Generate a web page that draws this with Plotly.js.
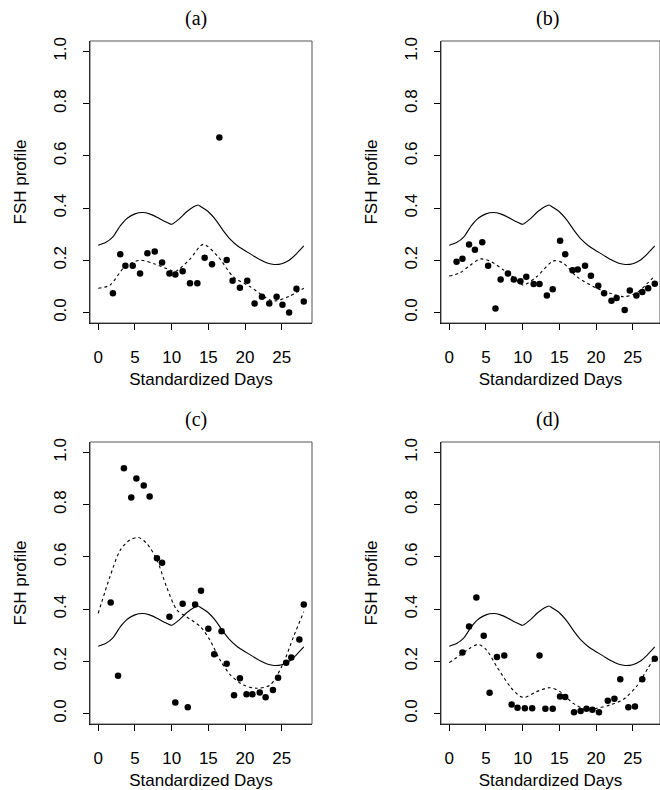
<!DOCTYPE html>
<html><head><meta charset="utf-8">
<script src="https://cdn.plot.ly/plotly-3.0.1.min.js"></script>
<style>body{margin:0;padding:0;background:#fff;} #chart{width:660px;height:790px;}</style>
</head><body><div id="chart"></div>
<script>
// Population mean curve (solid), shared by all panels
const popDays = [0,1,2,3,4,5,6,7,8,9,10,11,12,13,13.6,14,15,16,17,18,19,20,21,22,23,24,25,26,27,28];
const popMean = [0.258,0.268,0.29,0.332,0.362,0.378,0.383,0.378,0.365,0.35,0.338,0.358,0.385,0.405,0.412,0.405,0.386,0.355,0.315,0.28,0.255,0.237,0.22,0.203,0.19,0.184,0.187,0.2,0.225,0.255];

// Panel (a)
const aDays = [2,3,3.7,4.7,5.7,6.7,7.7,8.7,9.7,10.5,11.5,12.5,13.5,14.5,15.5,16.5,17.5,18.3,19.3,20.3,21.3,22.3,23.3,24.3,25.1,26,27,28];
const aVals = [0.074,0.223,0.179,0.179,0.150,0.227,0.234,0.192,0.150,0.146,0.158,0.112,0.112,0.210,0.185,0.67,0.201,0.122,0.095,0.122,0.035,0.061,0.035,0.061,0.030,0.0,0.091,0.042];
const aFitDays = [0,1.6,3.6,5.7,7.7,9.8,10.5,12.5,14.3,16.3,18.4,20.7,23.4,24.3,26,28];
const aFitVals = [0.093,0.105,0.175,0.2,0.186,0.163,0.157,0.205,0.261,0.215,0.137,0.099,0.048,0.045,0.062,0.093];

// Panel (b)
const bDays = [1.0,1.8,2.7,3.5,4.5,5.3,6.3,7.0,8.0,8.8,9.7,10.5,11.5,12.3,13.3,14.1,15.1,15.8,16.8,17.5,18.5,19.3,20.3,21.1,22.1,22.8,23.9,24.6,25.5,26.3,27.1,28];
const bVals = [0.195,0.206,0.261,0.241,0.269,0.179,0.016,0.127,0.150,0.127,0.120,0.137,0.109,0.109,0.065,0.089,0.275,0.223,0.162,0.165,0.179,0.141,0.103,0.074,0.045,0.056,0.01,0.084,0.065,0.079,0.093,0.11];
const bFitDays = [0,1.5,2.8,4.2,5.5,7.4,9.2,10.1,11.9,14.2,15.5,17.4,20.1,21.9,23.7,25.5,27.1,28];
const bFitVals = [0.14,0.153,0.18,0.205,0.198,0.163,0.125,0.105,0.137,0.198,0.19,0.137,0.093,0.074,0.061,0.074,0.115,0.14];

// Panel (c)
const cDays = [1.7,2.7,3.5,4.5,5.2,6.2,7.0,8.0,8.7,9.7,10.5,11.5,12.2,13.2,14.0,15.0,15.8,16.8,17.5,18.5,19.3,20.2,21.0,22.0,22.8,23.8,24.5,25.6,26.3,27.4,28];
const cVals = [0.425,0.145,0.939,0.827,0.90,0.873,0.831,0.595,0.578,0.371,0.042,0.421,0.024,0.418,0.47,0.325,0.227,0.315,0.191,0.07,0.135,0.074,0.074,0.081,0.062,0.09,0.137,0.195,0.215,0.284,0.418];
const cFitDays = [0,1.6,3.0,4.3,5.5,6.6,8.0,9.3,10.7,12.0,13.9,15.2,16.6,18.0,19.8,21.6,23.4,25.2,26.6,28];
const cFitVals = [0.384,0.524,0.626,0.665,0.674,0.652,0.588,0.486,0.397,0.371,0.333,0.282,0.205,0.148,0.109,0.097,0.109,0.192,0.294,0.39];

// Panel (d)
const dDays = [1.8,2.7,3.7,4.7,5.5,6.5,7.5,8.5,9.3,10.3,11.3,12.3,13.1,14.1,15.1,15.8,17.0,17.9,18.7,19.5,20.4,21.6,22.5,23.3,24.4,25.3,26.3,28];
const dVals = [0.234,0.333,0.444,0.298,0.08,0.217,0.222,0.035,0.022,0.02,0.02,0.222,0.018,0.018,0.065,0.063,0.005,0.01,0.018,0.015,0.005,0.049,0.057,0.131,0.024,0.027,0.131,0.21];
const dFitDays = [0,1.5,2.8,4.0,5.1,6.5,8.3,9.6,10.3,11.9,13.7,15.1,16.9,18.7,20.1,21.9,23.7,25.5,27.1,28];
const dFitVals = [0.195,0.224,0.25,0.265,0.243,0.179,0.103,0.067,0.062,0.084,0.099,0.084,0.039,0.014,0.02,0.033,0.054,0.103,0.175,0.215];

const panelTitles = ['(a)','(b)','(c)','(d)'];
const xTicks = [0,5,10,15,20,25];
const yTicks = [0,0.2,0.4,0.6,0.8,1.0];
const xLabel = 'Standardized Days';
const yLabel = 'FSH profile';

const panels = [
  [aDays,aVals,aFitDays,aFitVals],
  [bDays,bVals,bFitDays,bFitVals],
  [cDays,cVals,cFitDays,cFitVals],
  [dDays,dVals,dFitDays,dFitVals]
];

const W = 660, H = 790;
// box pixel geometry [left,right,top,bottom]
const boxes = [[90,312,41,323],[441,660,41,323],[90,312,442,724],[441,660,442,724]];
const titleX = [196,547,196,547];
const pxPerDay = 222/30.24;

const traces = [];
panels.forEach((p,i)=>{
  const xa = i===0?'x':'x'+(i+1), ya = i===0?'y':'y'+(i+1);
  traces.push({x:popDays,y:popMean,xaxis:xa,yaxis:ya,mode:'lines',type:'scatter',
    line:{color:'#000',width:1.1,shape:'spline',smoothing:0.6},showlegend:false,hoverinfo:'skip'});
  traces.push({x:p[2],y:p[3],xaxis:xa,yaxis:ya,mode:'lines',type:'scatter',
    line:{color:'#000',width:1.1,dash:'3px,3px',shape:'spline',smoothing:0.8},showlegend:false,hoverinfo:'skip'});
  traces.push({x:p[0],y:p[1],xaxis:xa,yaxis:ya,mode:'markers',type:'scatter',
    marker:{color:'#000',size:6.5},showlegend:false});
});

const layout = {width:W,height:H,margin:{l:0,r:0,t:0,b:0},paper_bgcolor:'#fff',plot_bgcolor:'#fff',
  font:{family:'Liberation Sans, Arial, sans-serif',size:17,color:'#000'},
  shapes:[],annotations:[]};

boxes.forEach((b,i)=>{
  const n = i===0?'':String(i+1);
  const xr0 = -1.12, xr1 = -1.12 + (b[1]-b[0])/pxPerDay;
  layout['xaxis'+n] = {domain:[b[0]/W,b[1]/W],range:[xr0,xr1],anchor:'y'+n,
    tickvals:xTicks,ticks:'outside',ticklen:6,tickcolor:'#000',showline:true,linecolor:'#000',linewidth:1,
    showgrid:false,zeroline:false,ticklabelstandoff:13,
    title:{text:xLabel,standoff:6,font:{size:17}}};
  layout['yaxis'+n] = {domain:[1-b[3]/H,1-b[2]/H],range:[-0.04,1.04],anchor:'x'+n,
    tickvals:yTicks,tickformat:'.1f',ticks:'outside',ticklen:6,tickcolor:'#000',tickangle:-90,
    showline:true,linecolor:'#000',linewidth:1,showgrid:false,zeroline:false,ticklabelstandoff:10,
    title:{text:yLabel,standoff:20,font:{size:17}}};
  layout.shapes.push({type:'rect',xref:'x'+n+' domain',yref:'y'+n+' domain',x0:0,x1:1,y0:0,y1:1,
    line:{color:'#555',width:1},fillcolor:'rgba(0,0,0,0)',layer:'above'});
  layout.annotations.push({text:panelTitles[i],xref:'paper',yref:'paper',x:titleX[i]/W,y:1-(b[2]-23)/H,
    xanchor:'center',yanchor:'middle',showarrow:false,font:{family:'Liberation Serif, Times New Roman, serif',size:20,color:'#000'}});
});

Plotly.newPlot('chart',traces,layout,{staticPlot:true});
</script></body></html>
